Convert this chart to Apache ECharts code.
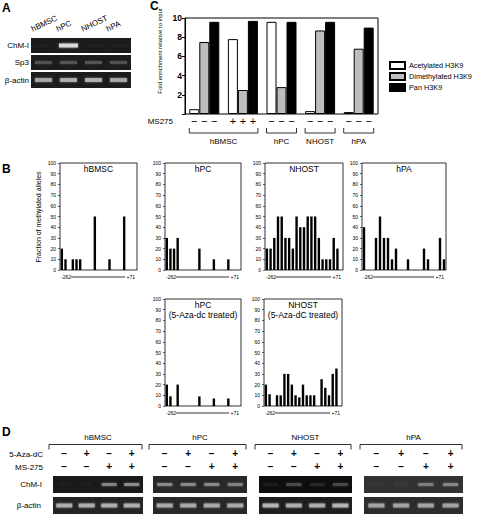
<!DOCTYPE html>
<html><head><meta charset="utf-8">
<script src="https://cdn.jsdelivr.net/npm/echarts@6/dist/echarts.min.js"></script>
<style>html,body{margin:0;padding:0;background:#fff}#c{width:477px;height:515px}</style>
</head><body><div id="c"></div>
<script>
const FONT = '"Liberation Sans", Arial, Helvetica, sans-serif';

// ---------- Panel C data ----------
const cConditions = ['hBMSC −', 'hBMSC +', 'hPC', 'NHOST', 'hPA'];
const cMS275 = ['−', '+', '−', '−', '−'];
const cSeriesNames = ['Acetylated H3K9', 'Dimethylated H3K9', 'Pan H3K9'];
const cAcetyl = [0.5, 7.8, 9.6, 0.3, 0.2];
const cDimethyl = [7.5, 2.5, 2.8, 8.7, 6.8];
const cPan = [9.6, 9.7, 9.6, 9.6, 9.0];
const cBracketLabels = ['hBMSC', 'hPC', 'NHOST', 'hPA'];
const cBracketSpans = [[0, 1], [2, 2], [3, 3], [4, 4]];

// ---------- Panel B data (fraction of methylated alleles per CpG site) ----------
const bSites = Array.from({length: 21}, (_, i) => 'CpG' + (i + 1));
const bHBMSC = [20, 10, null, 10, 10, 10, null, null, null, 50, null, null, null, 10, null, null, null, 50, null, null, null];
const bHPC = [30, 20, 20, 30, null, null, null, null, null, 20, null, null, null, 10, null, null, null, 10, null, null, null];
const bNHOST = [20, 20, 30, 50, 50, 30, 30, 20, 50, 40, 40, 50, 50, 50, 30, 10, 10, 10, 30, 20, null];
const bHPA = [40, null, null, 30, 50, 30, 30, 10, 20, null, null, 10, null, null, null, 20, 10, null, null, 30, 10];
const bHPCaza = [20, 9, null, 20, null, null, null, null, null, 9, null, null, null, 7, null, null, null, 7, null, null, null];
const bNHOSTaza = [20, 11, null, 10, 10, 30, 30, 20, 10, 8, 20, 10, 10, 10, null, 25, 17, 10, 30, 35, null];
const bStartLabel = '-262';
const bEndLabel = '+71';

// ---------- Panel A data (band intensities 0..1) ----------
const aLanes = ['hBMSC', 'hPC', 'NHOST', 'hPA'];
const aRowNames = ['ChM-I', 'Sp3', 'β-actin'];
const aChMI = [0, 1, 0, 0];
const aSp3 = [0.28, 0.3, 0.3, 0.28];
const aActin = [0.72, 0.75, 0.78, 0.72];

// ---------- Panel D data ----------
const dGroups = ['hBMSC', 'hPC', 'NHOST', 'hPA'];
const dAza = ['−', '+', '−', '+'];
const dMS = ['−', '−', '+', '+'];
const dChMI = [[0, 0, 0.55, 0.6], [0.55, 0.55, 0.55, 0.5], [0.08, 0.3, 0.12, 0.28], [0.03, 0.03, 0.45, 0.5]];
const dActin = [[0.75, 0.75, 0.75, 0.75], [0.72, 0.72, 0.72, 0.72], [0.8, 0.75, 0.75, 0.8], [0.68, 0.68, 0.68, 0.68]];

// ---------- build ----------
const chart = echarts.init(document.getElementById('c'), null, {renderer: 'svg'});
const grids = [], xAxes = [], yAxes = [], series = [], graphics = [];
function addGrid(g, x, y) {
  grids.push(g); const idx = grids.length - 1;
  x.gridIndex = idx; y.gridIndex = idx; xAxes.push(x); yAxes.push(y); return idx;
}
function txt(x, y, text, size, opt) {
  opt = opt || {};
  graphics.push({type: 'text', x: x, y: y, rotation: opt.rotation || 0, silent: true,
    style: {text: text, fontSize: size, fontFamily: FONT, fill: '#000', fontWeight: opt.bold ? 'bold' : 'normal',
      align: opt.align || 'left', verticalAlign: opt.valign || 'middle'}});
}
function line(pts, w) {
  graphics.push({type: 'polyline', silent: true, shape: {points: pts}, style: {stroke: '#000', lineWidth: w || 1, fill: null}});
}
function gray(bg, v) { const g = Math.round(bg + (238 - bg) * v); return 'rgb(' + g + ',' + g + ',' + g + ')'; }

// Panel C
const cG = {left: 185, top: 18, width: 193, height: 96};
const ci = addGrid({left: cG.left, top: cG.top, width: cG.width, height: cG.height, show: true, borderColor: '#000', borderWidth: 1},
  {type: 'category', data: cConditions, axisLine: {show: false}, axisTick: {show: false}, axisLabel: {show: false}},
  {type: 'value', min: 0, max: 10, interval: 2, splitLine: {show: false},
   axisLine: {show: true, lineStyle: {color: '#000'}}, axisTick: {show: true, length: 3, lineStyle: {color: '#000'}},
   axisLabel: {fontSize: 8.5, fontWeight: 'bold', color: '#000', fontFamily: FONT, margin: 3, formatter: v => v === 0 ? '' : String(v)}});
const cColors = ['#ffffff', '#bdbdbd', '#000000'];
[cAcetyl, cDimethyl, cPan].forEach((d, k) => series.push({
  type: 'bar', name: cSeriesNames[k], xAxisIndex: ci, yAxisIndex: ci, data: d, barWidth: 10, barGap: '0%',
  itemStyle: {color: cColors[k], borderColor: '#000', borderWidth: 1}, silent: true}));

// Panel B
const bPanels = [
  {title: ['hBMSC'], data: bHBMSC, left: 60, top: 163, width: 77},
  {title: ['hPC'], data: bHPC, left: 165, top: 163, width: 76},
  {title: ['NHOST'], data: bNHOST, left: 265, top: 163, width: 78},
  {title: ['hPA'], data: bHPA, left: 362, top: 163, width: 84},
  {title: ['hPC', '(5-Aza-dc treated)'], data: bHPCaza, left: 165, top: 299, width: 76},
  {title: ['NHOST', '(5-Aza-dC treated)'], data: bNHOSTaza, left: 264, top: 299, width: 78}
];
const bH = 107;
bPanels.forEach(p => {
  const gi = addGrid({left: p.left, top: p.top, width: p.width, height: bH, show: true, borderColor: '#333', borderWidth: 1},
    {type: 'category', data: bSites, axisLine: {show: false}, axisTick: {show: true, inside: true, length: 1, lineStyle: {color: '#777'}}, axisLabel: {show: false}},
    {type: 'value', min: 0, max: 100, interval: 10, splitLine: {show: false}, axisLine: {show: false},
     axisTick: {show: true, length: 2, lineStyle: {color: '#000', width: 0.6}},
     axisLabel: {fontSize: 5, color: '#000', margin: 4, fontFamily: FONT}});
  series.push({type: 'bar', xAxisIndex: gi, yAxisIndex: gi, data: p.data, barWidth: 2.4, itemStyle: {color: '#000'}, silent: true});
  p.title.forEach((t, j) => txt(p.left + p.width / 2, p.top + 5.5 + j * 10.5, t, 8.5, {align: 'center'}));
  const ly = p.top + bH + 7;
  txt(p.left + 1, ly, bStartLabel, 5, {align: 'left'});
  line([[p.left + 11, ly], [p.left + p.width - 12, ly]], 0.8);
  txt(p.left + p.width - 2, ly, bEndLabel, 5, {align: 'right'});
});
txt(38, 217, 'Fraction of methylated alleles', 7, {align: 'center', rotation: Math.PI / 2});

// Panel A gels
const aRows = [
  {data: aChMI, top: 38, height: 15, bw: 19, bh: 4},
  {data: aSp3, top: 55, height: 15, bw: 17, bh: 3},
  {data: aActin, top: 72, height: 16, bw: 17, bh: 4}
];
const aLeft = 31, aWidth = 100, aBg = 28;
aRows.forEach((r, k) => {
  const gi = addGrid({left: aLeft, top: r.top, width: aWidth, height: r.height, show: true, backgroundColor: gray(aBg, 0), borderWidth: 0},
    {type: 'category', data: aLanes, show: false},
    {type: 'value', min: 0, max: 1, show: false});
  series.push({type: 'scatter', xAxisIndex: gi, yAxisIndex: gi, symbol: 'rect', symbolSize: [r.bw, r.bh], silent: true,
    data: r.data.map((v, i) => ({value: [i, 0.5], itemStyle: {color: gray(aBg, v), shadowBlur: 2, shadowColor: gray(aBg, v * 0.8)}}))});
  txt(29, r.top + r.height / 2, aRowNames[k], 8, {align: 'right'});
});
aLanes.forEach((l, i) => {
  const cx = aLeft + aWidth * (i + 0.5) / 4;
  txt(cx - 10, 33, l, 8, {align: 'left', valign: 'bottom', rotation: 25 * Math.PI / 180});
});

// Panel D gels
const dGels = [{left: 53, width: 90}, {left: 153, width: 94}, {left: 259, width: 93}, {left: 364, width: 99}];
const dChBg = [26, 40, 14, 50];
const dAcBg = [36, 40, 30, 44];
const dLanes = dAza.map((a, i) => a + '\n' + dMS[i]);
dGels.forEach((g, k) => {
  const g1 = addGrid({left: g.left, top: 476, width: g.width, height: 17, show: true, backgroundColor: gray(dChBg[k], 0), borderWidth: 0},
    {type: 'category', data: dLanes, position: 'top', axisLine: {show: false}, axisTick: {show: false},
     axisLabel: {fontSize: 10, lineHeight: 13, margin: 3, color: '#000', fontWeight: 'bold', fontFamily: FONT, interval: 0}},
    {type: 'value', min: 0, max: 1, show: false});
  series.push({type: 'scatter', xAxisIndex: g1, yAxisIndex: g1, symbol: 'rect', symbolSize: [15, 3], silent: true,
    data: dChMI[k].map((v, i) => ({value: [i, 0.5], itemStyle: {color: gray(dChBg[k], v), shadowBlur: 2, shadowColor: gray(dChBg[k], v * 0.8)}}))});
  const g2 = addGrid({left: g.left, top: 497, width: g.width, height: 17, show: true, backgroundColor: gray(dAcBg[k], 0), borderWidth: 0},
    {type: 'category', data: dLanes, show: false},
    {type: 'value', min: 0, max: 1, show: false});
  series.push({type: 'scatter', xAxisIndex: g2, yAxisIndex: g2, symbol: 'rect', symbolSize: [16, 4], silent: true,
    data: dActin[k].map((v, i) => ({value: [i, 0.5], itemStyle: {color: gray(dAcBg[k], v), shadowBlur: 2, shadowColor: gray(dAcBg[k], v * 0.8)}}))});
  txt(g.left + g.width / 2, 437, dGroups[k], 8, {align: 'center'});
  line([[g.left - 4, 449.5], [g.left - 4, 444.5], [g.left + g.width - 1, 444.5], [g.left + g.width - 1, 449.5]], 0.8);
});
txt(43, 454, '5-Aza-dC', 8, {align: 'right'});
txt(43, 467, 'MS-275', 8, {align: 'right'});
txt(42, 484.5, 'ChM-I', 8, {align: 'right'});
txt(41, 505.5, 'β-actin', 8, {align: 'right'});

// Panel letters
txt(2, 8, 'A', 12, {bold: true});
txt(2, 169, 'B', 12, {bold: true});
txt(150, 6, 'C', 12, {bold: true});
txt(2, 432, 'D', 12, {bold: true});

// C extra labels
txt(160, 51, 'Fold enrichment relative to input', 6, {align: 'center', rotation: Math.PI / 2});
txt(173, 121, 'MS275', 8, {align: 'right'});

const option = {
  animation: false,
  grid: grids, xAxis: xAxes, yAxis: yAxes, series: series,
  legend: {data: cSeriesNames, orient: 'vertical', left: 384, top: 56, itemWidth: 15, itemHeight: 7, itemGap: 2, icon: 'rect',
    selectedMode: false, textStyle: {fontSize: 7.3, fontFamily: FONT, color: '#000', padding: [0, 0, 0, -1]}},
  graphic: graphics
};
chart.setOption(option);

// MS275 signs and group brackets for panel C, placed from the axis scale
const extra = [];
const cx = cConditions.map((c, i) => chart.convertToPixel({xAxisIndex: ci}, i));
cx.forEach((x, i) => {
  [-10, 0, 10].forEach(o => extra.push({type: 'text', x: x + o, y: 121, silent: true,
    style: {text: cMS275[i], fontSize: 11, fontFamily: FONT, fill: '#000', align: 'center', verticalAlign: 'middle'}}));
});
cBracketSpans.forEach((s, k) => {
  const x1 = cx[s[0]] - 15, x2 = cx[s[1]] + 15;
  extra.push({type: 'polyline', silent: true, shape: {points: [[x1, 128], [x1, 133], [x2, 133], [x2, 128]]}, style: {stroke: '#000', lineWidth: 0.8, fill: null}});
  extra.push({type: 'text', x: (x1 + x2) / 2, y: 141, silent: true,
    style: {text: cBracketLabels[k], fontSize: 8, fontFamily: FONT, fill: '#000', align: 'center', verticalAlign: 'middle'}});
});
chart.setOption({graphic: graphics.concat(extra)});
</script></body></html>
